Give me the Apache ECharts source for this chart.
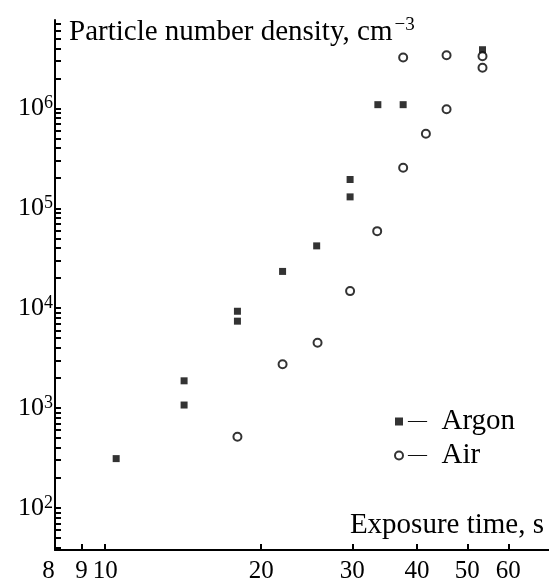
<!DOCTYPE html>
<html>
<head>
<meta charset="utf-8">
<script src="https://cdn.jsdelivr.net/npm/echarts@6/dist/echarts.min.js"></script>
<style>html,body{margin:0;padding:0;background:#fff}#c{width:549px;height:584px}</style>
</head>
<body>
<div id="c"></div>
<script>
// Data
const argonTime    = [10.5, 14.2, 14.2, 18.0, 18.0, 22.0, 25.6, 29.7, 29.7, 33.6, 37.6, 53.5];
const argonDensity = [311, 1870, 1070, 9300, 7400, 23300, 42000, 194000, 130000, 1.09e6, 1.09e6, 3.87e6];
const airTime      = [18.0, 22.0, 25.7, 29.7, 33.5, 37.6, 41.6, 45.6, 37.6, 45.6, 53.5, 53.5];
const airDensity   = [515, 2740, 4490, 14800, 59000, 255000, 558000, 9.8e5, 3.23e6, 3.4e6, 3.33e6, 2.55e6];

// Axis tick values
const xTickValues  = [9, 10, 20, 30, 40, 50, 60];
const xLabelValues = [8, 9, 10, 20, 30, 40, 50, 60];
const yLabelValues = [1e2, 1e3, 1e4, 1e5, 1e6];
const yMinorMultipliers = [2, 3, 4, 5, 6, 7, 8, 9];

const yTickValues = [40, 50, 60, 70, 80, 90];
yLabelValues.forEach(p => {
  yTickValues.push(p);
  yMinorMultipliers.forEach(m => { if (p * m <= 7e6) yTickValues.push(p * m); });
});

const FONT = '"Liberation Serif", "DejaVu Serif", serif';

const chart = echarts.init(document.getElementById('c'), null, {renderer: 'canvas'});
chart.setOption({
  animation: false,
  backgroundColor: '#fff',
  grid: {left: 55, top: 20, right: 0, bottom: 24, containLabel: false},
  xAxis: {
    type: 'log', logBase: 10, min: 8, max: 71.9,
    name: 'Exposure time, s',
    nameLocation: 'end', nameGap: -5,
    nameTextStyle: {fontFamily: FONT, fontSize: 29, color: '#000', align: 'right', verticalAlign: 'bottom', padding: [0, 0, 10, 0]},
    axisLine: {show: true, lineStyle: {color: '#000', width: 2}},
    axisTick: {show: true, inside: true, length: 6, customValues: xTickValues, lineStyle: {color: '#000', width: 2}},
    minorTick: {show: false},
    axisLabel: {
      show: true, customValues: xLabelValues, margin: 9, fontFamily: FONT, fontSize: 25, color: '#000',
      formatter: v => Math.round(v) === 8 ? '{e|8}' : String(Math.round(v)),
      rich: {e: {fontFamily: FONT, fontSize: 25, color: '#000', padding: [0, 13, 0, 0]}}
    },
    splitLine: {show: false}
  },
  yAxis: {
    type: 'log', logBase: 10, min: 37.8, max: 7.68e6,
    name: '{t|Particle number density, cm}{s|\u22123}',
    nameLocation: 'end', nameGap: -12,
    nameTextStyle: {
      align: 'left', verticalAlign: 'middle', padding: [0, 0, 0, 14],
      rich: {
        t: {fontFamily: FONT, fontSize: 29, color: '#000', lineHeight: 32},
        s: {fontFamily: FONT, fontSize: 19, color: '#000', verticalAlign: 'top', lineHeight: 32, padding: [0, 0, 0, 2]}
      }
    },
    axisLine: {show: true, lineStyle: {color: '#000', width: 2}},
    axisTick: {show: true, inside: true, length: 6, customValues: yTickValues, lineStyle: {color: '#000', width: 2}},
    minorTick: {show: false},
    axisLabel: {
      show: true, customValues: yLabelValues, margin: 2,
      formatter: v => '{b|10}{s|' + Math.round(Math.log10(v)) + '}',
      rich: {
        b: {fontFamily: FONT, fontSize: 26, color: '#000', lineHeight: 28},
        s: {fontFamily: FONT, fontSize: 18, color: '#000', verticalAlign: 'top', lineHeight: 28}
      }
    },
    splitLine: {show: false}
  },
  legend: {
    orient: 'vertical', left: 389, top: 402,
    itemWidth: 8, itemHeight: 8, itemGap: 5,
    formatter: name => '{d|\u2014}  ' + name,
    textStyle: {fontFamily: FONT, fontSize: 29, color: '#000', rich: {d: {fontFamily: FONT, fontSize: 19, color: '#000'}}},
    data: [{name: 'Argon', icon: 'rect'}, {name: 'Air', icon: 'emptyCircle'}]
  },
  series: [
    {
      name: 'Argon', type: 'scatter', symbol: 'rect', symbolSize: 7,
      itemStyle: {color: '#000'},
      data: argonTime.map((t, i) => [t, argonDensity[i]])
    },
    {
      name: 'Air', type: 'scatter', symbol: 'emptyCircle', symbolSize: 8,
      itemStyle: {color: '#000', borderColor: '#000', borderWidth: 1.5},
      data: airTime.map((t, i) => [t, airDensity[i]])
    }
  ]
});
</script>
</body>
</html>
